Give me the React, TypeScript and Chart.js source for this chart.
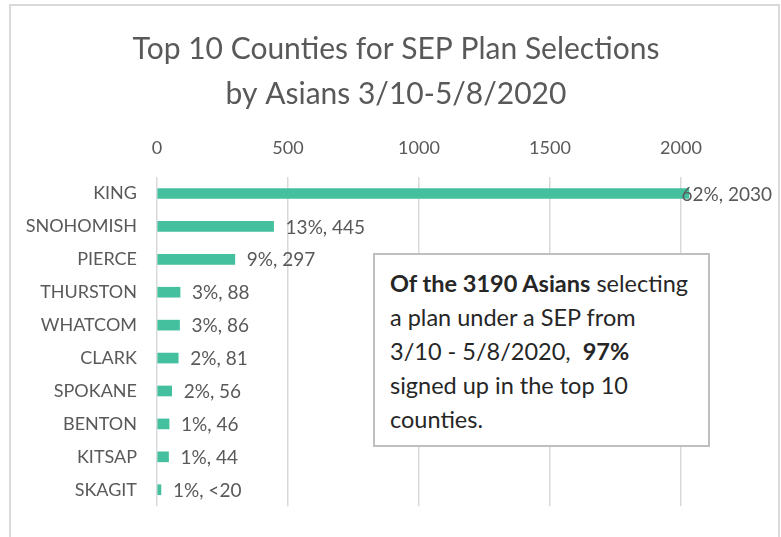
import React, { useEffect, useRef } from 'react';
import { Chart, registerables } from 'chart.js';

Chart.register(...registerables);

const counties = ['KING', 'SNOHOMISH', 'PIERCE', 'THURSTON', 'WHATCOM', 'CLARK', 'SPOKANE', 'BENTON', 'KITSAP', 'SKAGIT'];
const selections = [2030, 445, 297, 88, 86, 81, 56, 46, 44, 15];
const percents = ['62%', '13%', '9%', '3%', '3%', '2%', '2%', '1%', '1%', '1%'];
const valueLabels = ['2030', '445', '297', '88', '86', '81', '56', '46', '44', '<20'];
const xMin = 0;
const xMax = 2000;
const xStep = 500;
const titleLines = ['Top 10 Counties for SEP Plan Selections', 'by Asians 3/10-5/8/2020'];

const FONT = 'Lato, "Open Sans", sans-serif';
const GRAY = '#595959';

const titlePlugin = {
  id: 'customTitle',
  beforeDraw(chart: any) {
    const ctx = chart.ctx;
    ctx.save();
    ctx.font = `30px ${FONT}`;
    ctx.fillStyle = GRAY;
    ctx.textAlign = 'center';
    ctx.textBaseline = 'middle';
    titleLines.forEach((line, i) => {
      ctx.fillText(line, 396, 49 + i * 45);
    });
    ctx.restore();
  },
};

const dataLabelPlugin = {
  id: 'dataLabels',
  afterDatasetsDraw(chart: any) {
    const ctx = chart.ctx;
    const meta = chart.getDatasetMeta(0);
    ctx.save();
    ctx.font = `19px ${FONT}`;
    ctx.fillStyle = GRAY;
    ctx.textBaseline = 'middle';
    ctx.textAlign = 'left';
    meta.data.forEach((bar: any, i: number) => {
      const text = `${percents[i]}, ${valueLabels[i]}`;
      const w = ctx.measureText(text).width;
      let x = bar.x + 12;
      if (x + w > chart.width - 9) x = chart.width - 9 - w;
      ctx.fillText(text, x, bar.y + 1);
    });
    ctx.restore();
  },
};

export default function App() {
  const canvasRef = useRef<HTMLCanvasElement | null>(null);

  useEffect(() => {
    let chart: Chart | null = null;
    let cancelled = false;
    const make = () => {
      if (cancelled || !canvasRef.current) return;
      chart = new Chart(canvasRef.current, {
        type: 'bar',
        data: {
          labels: counties,
          datasets: [
            {
              data: selections,
              backgroundColor: '#44c09f',
              barThickness: 10,
              clip: false as any,
            },
          ],
        },
        options: {
          animation: false,
          responsive: false,
          indexAxis: 'y',
          layout: { padding: { left: 0, right: 100, top: 126, bottom: 24 } },
          plugins: {
            legend: { display: false },
            tooltip: { enabled: false },
            title: { display: false },
          },
          scales: {
            x: {
              position: 'top',
              min: xMin,
              max: xMax,
              ticks: {
                stepSize: xStep,
                color: GRAY,
                font: { family: FONT, size: 18 },
                padding: 18,
                callback: (v: any) => String(v),
              },
              grid: { color: '#d9d9d9', lineWidth: 1.5, drawTicks: false },
              border: { display: false },
              afterFit: (scale: any) => {
                scale.height = 51;
              },
            },
            y: {
              ticks: {
                color: GRAY,
                font: { family: FONT, size: 18 },
                padding: 20,
              },
              grid: { display: false, drawTicks: false },
              border: { display: false },
              afterFit: (scale: any) => {
                scale.width = 157;
              },
            },
          },
        },
        plugins: [titlePlugin, dataLabelPlugin],
      });
    };
    const fonts: any = (document as any).fonts;
    if (fonts && fonts.load) {
      Promise.all([fonts.load(`19px Lato`), fonts.load(`bold 21px Lato`)])
        .catch(() => null)
        .then(make);
    } else {
      make();
    }
    return () => {
      cancelled = true;
      if (chart) chart.destroy();
    };
  }, []);

  return (
    <div style={{ position: 'fixed', left: 0, top: 0, width: 781, height: 537, background: '#fff', overflow: 'hidden' }}>
      <div
        style={{
          position: 'absolute',
          left: 9,
          top: 4,
          width: 771,
          height: 560,
          boxSizing: 'border-box',
          border: '2px solid #d9d9d9',
        }}
      />
      <canvas ref={canvasRef} width={781} height={537} style={{ position: 'absolute', left: 0, top: 0 }} />
      <div
        style={{
          position: 'absolute',
          left: 373,
          top: 253,
          width: 337,
          height: 194,
          boxSizing: 'border-box',
          border: '2px solid #bfbfbf',
          background: '#fff',
          padding: '11px 0 0 15px',
          fontFamily: FONT,
          fontSize: 23.5,
          lineHeight: '34px',
          color: '#262626',
          whiteSpace: 'nowrap',
        }}
      >
        <b>Of the 3190 Asians</b> selecting
        <br />a plan under a SEP from
        <br />3/10 - 5/8/2020,&nbsp; <b>97%</b>
        <br />signed up in the top 10
        <br />counties.
      </div>
    </div>
  );
}
